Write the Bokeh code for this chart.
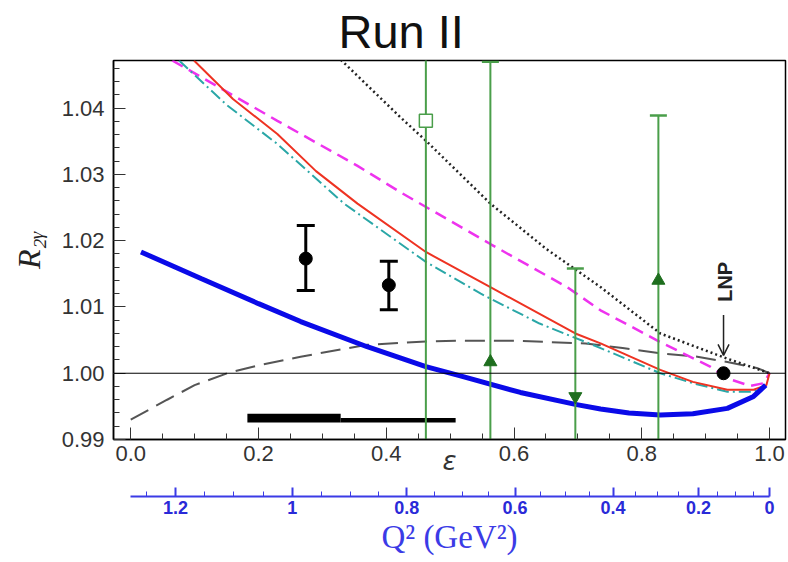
import numpy as np
from bokeh.plotting import figure
from bokeh.layouts import column
from bokeh.models import (Range1d, FixedTicker, SingleIntervalTicker,
                          PrintfTickFormatter, CustomJSTickFormatter, Label, Span,
                          Arrow, OpenHead)
from bokeh.embed import file_html
from bokeh.resources import INLINE

# ---------------- data ----------------
eps_blue = [0.016, 0.11, 0.20, 0.266, 0.37, 0.462, 0.516, 0.61, 0.696, 0.7355, 0.78, 0.829, 0.88, 0.934, 0.975, 0.994]
R_blue   = [1.0183, 1.0143, 1.0105, 1.0078, 1.0040, 1.0010, 0.9996, 0.9971, 0.9953, 0.9946, 0.9940, 0.9937, 0.9939, 0.9947, 0.9965, 0.9982]

eps_gray = [0.0, 0.057, 0.10, 0.151, 0.20, 0.266, 0.37, 0.462, 0.516, 0.60, 0.712, 0.770, 0.829, 0.887, 0.934, 0.980, 1.0]
R_gray   = [0.9930, 0.9960, 0.9982, 1.0000, 1.0012, 1.0025, 1.0043, 1.0048, 1.0049, 1.0049, 1.0045, 1.0038, 1.0030, 1.0025, 1.0017, 1.0008, 1.0000]

eps_dot = [0.329, 0.4225, 0.462, 0.563, 0.65, 0.7355, 0.829, 0.934, 1.0]
R_dot   = [1.0473, 1.0386, 1.0351, 1.0256, 1.0188, 1.0130, 1.0060, 1.0022, 1.0000]

eps_mag = [0.065, 0.15, 0.2295, 0.355, 0.4225, 0.563, 0.683, 0.7355, 0.829, 0.907, 0.934, 0.970, 0.991, 1.0]
R_mag   = [1.0472, 1.0425, 1.0381, 1.0313, 1.0273, 1.0195, 1.0130, 1.0095, 1.0047, 1.0010, 0.9992, 0.9981, 0.9985, 1.0000]

eps_red = [0.099, 0.16, 0.2295, 0.29, 0.355, 0.462, 0.563, 0.696, 0.7355, 0.829, 0.88, 0.934, 0.975, 0.995, 1.0]
R_red   = [1.0472, 1.0414, 1.0361, 1.0305, 1.0256, 1.0183, 1.0130, 1.0060, 1.0045, 1.0005, 0.9987, 0.9975, 0.9975, 0.9982, 1.0000]

eps_cyan = [0.0757, 0.15, 0.2295, 0.334, 0.462, 0.548, 0.64, 0.7355, 0.829, 0.88, 0.934, 0.975, 0.993]
R_cyan   = [1.0472, 1.0405, 1.0346, 1.0256, 1.0168, 1.0120, 1.0075, 1.0038, 1.0000, 0.9985, 0.9972, 0.9972, 0.9982]

# black data points (R2gamma with errors)
eps_blk = [0.274, 0.404]
R_blk   = [1.0173, 1.0133]
err_blk_up = [0.0050, 0.0036]
err_blk_dn = [0.0048, 0.0037]

# green data points
eps_grn = [0.462, 0.563, 0.696, 0.826]
R_grn   = [1.0381, 1.0017, 0.9965, 1.0140]
err_grn = [0.0520, 0.0453, 0.0193, 0.0249]

# LNP point
eps_lnp = [0.928]
R_lnp   = [1.000]

# horizontal bars (epsilon ranges)
bar_left   = [0.1826, 0.3286]
bar_right  = [0.3286, 0.5086]
bar_bottom = [0.99257, 0.99257]
bar_top    = [0.99388, 0.99323]

# Q^2 axis ticks
q2_major = [1.2, 1.0, 0.8, 0.6, 0.4, 0.2, 0.0]
q2_labels = ["1.2", "1", "0.8", "0.6", "0.4", "0.2", "0"]
E_beam = 1.0      # GeV
M_p = 0.938272    # GeV


def eps_of_q2(q2):
    q2 = np.asarray(q2, dtype=float)
    s = q2 / (4 * E_beam**2 - 2 * E_beam * q2 / M_p)
    t2 = s / (1 - s)
    tau = q2 / (4 * M_p**2)
    return 1.0 / (1.0 + 2 * (1 + tau) * t2)


q2_minor = [round(v, 2) for v in np.arange(0.05, 1.26, 0.05) if round(v, 2) not in q2_major]
major_pos = [float(v) for v in eps_of_q2(q2_major)]
minor_pos = [float(v) for v in eps_of_q2(q2_minor)]

# ---------------- main figure ----------------
X0, X1 = -0.027, 1.025
Y0, Y1 = 0.99, 1.0472
xr = Range1d(X0, X1)
p = figure(width=788, height=484, x_range=xr, y_range=Range1d(Y0, Y1),
           output_backend="svg", toolbar_location=None,
           min_border_left=113, min_border_right=3, min_border_top=59, min_border_bottom=45)
p.background_fill_color = "white"
p.border_fill_color = "white"
p.outline_line_color = "black"
p.outline_line_width = 1.5
p.xgrid.visible = False
p.ygrid.visible = False

p.title.text = "Run II"
p.title.text_font = "Liberation Sans"
p.title.text_font_size = "47px"
p.title.text_font_style = "normal"
p.title.text_color = "#111111"
p.title.align = "left"
p.title.vertical_align = "bottom"
p.title.offset = 225
p.title.standoff = 5

TICK_FONT = "Liberation Sans"
xa = p.xaxis[0]
xa.ticker = SingleIntervalTicker(interval=0.2, num_minor_ticks=4)
xa.formatter = PrintfTickFormatter(format="%.1f")
ya = p.yaxis[0]
ya.ticker = SingleIntervalTicker(interval=0.01, num_minor_ticks=5)
ya.formatter = PrintfTickFormatter(format="%.2f")
for ax in (xa, ya):
    ax.major_tick_in = 12
    ax.major_tick_out = 0
    ax.minor_tick_in = 6
    ax.minor_tick_out = 0
    ax.axis_line_width = 1.5
    ax.axis_line_color = "black"
    ax.major_tick_line_color = "#333333"
    ax.minor_tick_line_color = "#333333"
    ax.major_label_text_font = TICK_FONT
    ax.major_label_text_font_size = "22px"
    ax.major_label_text_color = "#333333"
xa.major_label_standoff = 6
ya.major_label_standoff = 9

xa.axis_label = "ε"
xa.axis_label_text_font = "DejaVu Sans"
xa.axis_label_text_font_style = "italic"
xa.axis_label_text_font_size = "26px"
xa.axis_label_text_color = "#333333"
xa.axis_label_standoff = -18

ya.axis_label = "R₂ᵧ"
ya.axis_label_text_font = "Liberation Serif"
ya.axis_label_text_font_style = "italic"
ya.axis_label_text_font_size = "32px"
ya.axis_label_text_color = "#222222"
ya.axis_label_standoff = 12

# reference line at 1
p.add_layout(Span(location=1.0, dimension="width", line_color="black", line_width=1))

# curves
p.line(eps_gray, R_gray, line_color="#555555", line_width=2, line_dash="20 9")
p.line(eps_dot, R_dot, line_color="#222222", line_width=2.5, line_dash="2 3")
p.line(eps_mag, R_mag, line_color="#ee33ee", line_width=2.5, line_dash="12 7")
p.line(eps_cyan, R_cyan, line_color="#2aa7a7", line_width=2, line_dash="12 4 2 4")
p.line(eps_red, R_red, line_color="#ee3322", line_width=2)
p.line(eps_blue, R_blue, line_color="#0a0ae8", line_width=5)

# bars
p.quad(left=bar_left, right=bar_right, bottom=bar_bottom, top=bar_top, fill_color="black", line_color=None)

# green points
G_LINE = "#4a9e4a"
G_MARK = "#1e6e1e"
g_lo = [r - e for r, e in zip(R_grn, err_grn)]
g_hi = [r + e for r, e in zip(R_grn, err_grn)]
p.segment(x0=eps_grn, y0=g_lo, x1=eps_grn, y1=g_hi, line_color=G_LINE, line_width=2)
p.scatter(x=eps_grn, y=g_hi, marker="dash", size=17, line_color=G_LINE, line_width=2.5)
p.scatter(x=eps_grn[:1], y=R_grn[:1], marker="square", size=13, line_color=G_LINE, fill_color="white", line_width=1.5)
p.scatter(x=[eps_grn[1], eps_grn[3]], y=[R_grn[1], R_grn[3]], marker="triangle", size=13,
          line_color=G_MARK, fill_color=G_MARK)
p.scatter(x=[eps_grn[2]], y=[R_grn[2]], marker="inverted_triangle", size=13,
          line_color=G_MARK, fill_color=G_MARK)

# black points
b_lo = [r - e for r, e in zip(R_blk, err_blk_dn)]
b_hi = [r + e for r, e in zip(R_blk, err_blk_up)]
p.segment(x0=eps_blk, y0=b_lo, x1=eps_blk, y1=b_hi, line_color="black", line_width=3)
p.scatter(x=eps_blk + eps_blk, y=b_lo + b_hi, marker="dash", size=18, line_color="black", line_width=3)
p.scatter(x=eps_blk, y=R_blk, marker="circle", size=13, fill_color="black", line_color="black")

# LNP point
p.scatter(x=eps_lnp, y=R_lnp, marker="circle", size=13, fill_color="black", line_color="black")
p.add_layout(Arrow(x_start=eps_lnp[0], y_start=R_lnp[0] + 0.0088, x_end=eps_lnp[0], y_end=R_lnp[0] + 0.0027,
                   line_color="#222222", line_width=1.5,
                   end=OpenHead(size=11, line_color="#222222", line_width=1.5)))
p.add_layout(Label(x=eps_lnp[0] + 0.002, y=R_lnp[0] + 0.0138, text="LNP", angle=np.pi / 2,
                   text_font="Liberation Sans", text_font_style="bold", text_font_size="20px",
                   text_color="#222222", text_align="center", text_baseline="middle"))

# ---------------- Q^2 axis strip ----------------
BLUE_AX = "#3b3be6"
q2 = figure(width=788, height=78, x_range=xr, y_range=Range1d(0, 1),
            output_backend="svg", toolbar_location=None, y_axis_location=None,
            min_border_left=113, min_border_right=3, min_border_top=0, min_border_bottom=66)
q2.outline_line_color = None
q2.background_fill_color = "white"
q2.border_fill_color = "white"
q2.xgrid.visible = False
q2.ygrid.visible = False
q2fmt = CustomJSTickFormatter(args=dict(pos=major_pos, lab=q2_labels), code="""
let best = 0, bd = 1e9;
for (let i = 0; i < pos.length; i++) { const d = Math.abs(pos[i] - tick); if (d < bd) { bd = d; best = i; } }
return lab[best];
""")
q2ax = q2.xaxis[0]
q2ax.ticker = FixedTicker(ticks=major_pos, minor_ticks=minor_pos)
q2ax.formatter = q2fmt
q2ax.bounds = (0.0, 1.0)
q2ax.axis_line_color = BLUE_AX
q2ax.axis_line_width = 2
q2ax.major_tick_line_color = BLUE_AX
q2ax.minor_tick_line_color = BLUE_AX
q2ax.major_tick_line_width = 2
q2ax.major_tick_in = 9
q2ax.major_tick_out = 0
q2ax.minor_tick_in = 5
q2ax.minor_tick_out = 0
q2ax.major_label_standoff = 4
q2ax.major_label_text_font = TICK_FONT
q2ax.major_label_text_font_style = "bold"
q2ax.major_label_text_font_size = "18px"
q2ax.major_label_text_color = "#2a2ad8"
q2ax.axis_label = "Q² (GeV²)"
q2ax.axis_label_text_font = "Liberation Serif"
q2ax.axis_label_text_font_style = "normal"
q2ax.axis_label_text_font_size = "33px"
q2ax.axis_label_text_color = BLUE_AX
q2ax.axis_label_standoff = 2

layout = column(p, q2, spacing=0)
open("out.html", "w").write(file_html(layout, INLINE))
